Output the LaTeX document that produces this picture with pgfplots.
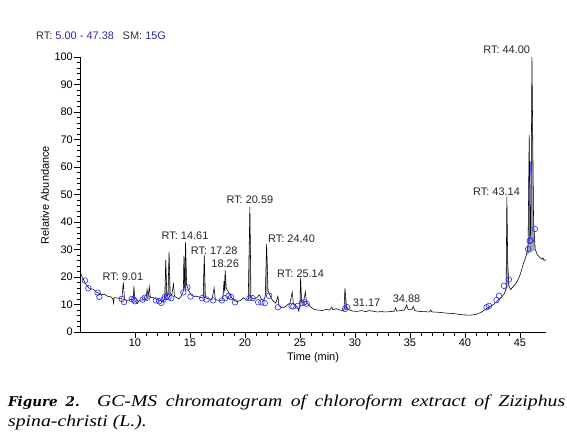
\documentclass[border=0pt]{standalone}
\usepackage{fontspec}
\setmainfont{Liberation Sans}
\newfontfamily\capfont[FakeStretch=1.2]{Liberation Serif}
\newfontfamily\figfont{DejaVu Serif}
\usepackage{pgfplots}
\pgfplotsset{compat=1.18}
\definecolor{rtblue}{RGB}{45,45,160}
\definecolor{mkblue}{RGB}{40,40,255}
\begin{document}
\begin{tikzpicture}[x=1bp,y=1bp]
\path[use as bounding box] (0,0) rectangle (567,-442);
\node[anchor=west,inner sep=0,font=\fontsize{11}{12}\selectfont] at (36,-36)
  {\textcolor{black!80}{RT:} \textcolor{rtblue}{5.00 - 47.38}\hspace{0.8em}\textcolor{black!80}{SM:} \textcolor{rtblue}{15G}};
\begin{axis}[
  at={(80bp,-332bp)}, anchor=south west,
  scale only axis, width=466bp, height=275bp,
  xmin=5, xmax=47.38, ymin=0, ymax=100,
  axis lines*=left,
  axis line style={line width=0.9pt,-},
  xtick={10,15,...,45}, ytick={0,10,...,100},
  minor x tick num=4, minor y tick num=4,
  tick align=outside,
  major tick length=6bp, minor tick length=3.5bp,
  tick style={black,line width=0.6pt},
  tick label style={font=\fontsize{11}{12}\selectfont},
  /pgf/number format/assume math mode=true,
  yticklabel style={inner sep=1pt},
  xticklabel style={inner sep=1pt},
  clip=false,
]
% gray filled peaks
\addplot[fill=gray!70,draw=none] coordinates {(12.7,12) (12.8,26.2) (12.9,13)} -- cycle;
\addplot[fill=gray!70,draw=none] coordinates {(13.0,13.5) (13.1,29.2) (13.2,14)} -- cycle;
\addplot[fill=gray!70,draw=none] coordinates {(14.4,15) (14.45,27.8) (14.52,16) (14.6,32.8) (14.7,17)} -- cycle;
\addplot[fill=gray!70,draw=none] coordinates {(16.2,12.3) (16.3,27.9) (16.4,12.5)} -- cycle;
\addplot[fill=gray!70,draw=none] coordinates {(18.0,13) (18.1,18.5) (18.15,15) (18.2,22.5) (18.3,16)} -- cycle;
\addplot[fill=gray!70,draw=none] coordinates {(20.3,11.8) (20.45,45.6) (20.55,12.5)} -- cycle;
\addplot[fill=gray!70,draw=none] coordinates {(21.85,13) (21.97,32) (22.1,15)} -- cycle;
\addplot[fill=gray!70,draw=none] coordinates {(25.0,10) (25.06,19.8) (25.15,11)} -- cycle;
\addplot[fill=gray!70,draw=none] coordinates {(29.0,7.9) (29.1,15.9) (29.25,8.5)} -- cycle;
\addplot[fill=gray!70,draw=none] coordinates {(43.6,14) (43.75,16) (43.82,49.2) (43.9,25) (44.0,17)} -- cycle;
\addplot[fill=gray!70,draw=none] coordinates {(45.6,28) (45.75,32) (45.85,71.6) (45.95,35) (46.0,36) (46.1,100) (46.25,40) (46.4,30)} -- cycle;
% trace
\addplot[black,line width=0.55pt] coordinates {
(5.00,22.0) (5.2,20.0) (5.5,17.5) (5.8,16.0) (6.2,15.5) (6.5,14.5) (6.8,14.0) (7.0,13.5)
(7.2,13.8) (7.5,13.0) (7.8,12.8) (8.0,12.0) (8.05,10.5) (8.1,12.5) (8.5,12.3) (8.8,12.0)
(8.94,18.0) (9.05,11.8) (9.3,11.5) (9.6,11.8) (9.85,12.0) (9.9,16.8) (10.0,11.5) (10.2,10.3)
(10.4,11.5) (10.8,11.8) (11.0,12.0) (11.1,15.5) (11.2,13) (11.3,16.5) (11.4,12.5) (11.7,12.5)
(12.0,11.8) (12.3,11.5) (12.5,11.0) (12.7,12.0) (12.8,26.2) (12.9,13) (13.0,13.5) (13.1,29.2)
(13.2,14) (13.35,13.5) (13.5,17.5) (13.6,13.0) (13.8,12.5) (14.0,12.0) (14.2,13.0) (14.4,15)
(14.45,27.8) (14.52,16) (14.6,32.8) (14.7,17) (14.9,15) (15.1,13.5) (15.3,13) (15.6,13)
(16.0,12.5) (16.2,12.3) (16.3,27.9) (16.4,12.5) (16.7,12) (17.0,11.8) (17.2,16.0) (17.3,11.8)
(17.6,11.5) (17.9,11.5) (18.0,13) (18.1,18.5) (18.15,15) (18.2,22.5) (18.3,16) (18.5,14.5)
(18.7,13) (19.0,11.5) (19.3,11) (19.6,11.5) (19.9,12.5) (20.1,11.5) (20.3,11.8) (20.45,45.6)
(20.55,12.5) (20.8,12) (21.1,12.5) (21.3,13.5) (21.5,12) (21.7,11.5) (21.85,13) (21.97,32)
(22.1,15) (22.25,13.5) (22.5,11.5) (22.8,10.5) (23.0,13) (23.1,9.5) (23.3,9.0) (23.6,9.0)
(23.9,10) (24.1,10.5) (24.3,14.5) (24.4,10.5) (24.6,9.5) (24.8,9) (24.9,7.5) (25.0,10)
(25.06,19.8) (25.15,11) (25.3,10.5) (25.5,14.6) (25.6,10.5) (25.8,10) (26.0,9) (26.3,8.2)
(26.6,8.0) (27.0,7.8) (27.4,8.2) (27.7,8.0) (27.9,9.0) (28.0,8.0) (28.3,8.5) (28.6,8.0)
(28.9,7.8) (29.0,7.9) (29.1,15.9) (29.25,8.5) (29.5,8.0) (29.8,7.6) (30.2,7.5) (30.6,7.8)
(31.0,7.4) (31.3,7.8) (31.6,7.6) (32.0,7.3) (32.4,7.4) (32.8,7.3) (33.2,7.4) (33.6,7.6)
(33.7,8.8) (33.8,7.6) (34.2,7.8) (34.5,8.0) (34.7,9.8) (34.85,8.2) (35.2,8.2) (35.3,9.3)
(35.45,7.8) (35.8,7.5) (36.3,7.4) (36.8,7.3) (36.9,8.0) (37.0,7.3) (37.5,7.2) (38.0,7.0)
(38.5,6.8) (39.0,6.7) (39.5,6.4) (40.0,6.2) (40.5,6.1) (41.0,6.4) (41.5,7.2) (42.0,8.6)
(42.3,9.3) (42.6,10.0) (43.0,11.5) (43.3,12.5) (43.6,14.0) (43.75,16) (43.82,49.2) (43.9,25)
(44.0,17) (44.15,15.5) (44.4,16.5) (44.7,18) (45.0,20.5) (45.3,24.5) (45.6,28) (45.75,32)
(45.85,71.6) (45.95,35) (46.0,36) (46.1,100) (46.25,40) (46.4,30) (46.6,28) (46.8,27.2)
(47.0,26.5) (47.1,27) (47.2,26.0) (47.38,26.3)
};
% blue integration lines
\addplot[mkblue,line width=0.6pt] coordinates {(45.9,33) (45.95,62)};
\addplot[mkblue,line width=0.6pt] coordinates {(14.6,15.5) (14.6,22.5)};
% blue markers
\addplot[only marks,mark=o,mark size=2.8bp,mkblue,mark options={line width=0.6pt}] coordinates {
(5.45,18.7) (5.76,15.9) (6.6,14.3) (6.76,12.8) (8.8,12.0) (9.0,10.9) (9.7,12) (9.9,11.8)
(10.0,11.2) (10.7,11.8) (10.9,12.5) (11.1,12.5) (11.9,11.5) (12.2,11.2) (12.4,10.6) (12.6,11.8)
(12.7,12.7) (12.9,12.9) (13.05,12.7) (13.3,12.3) (14.4,14.4) (14.76,16.2) (15.05,12.9) (16.1,12.3)
(16.5,11.8) (17.1,11.5) (17.9,11.5) (18.2,12.3) (18.5,13.1) (18.75,12.7) (19.1,10.8) (20.4,12.3)
(20.7,12.3) (21.2,10.8) (21.5,10.8) (21.8,10.5) (22.2,13.2) (23.0,9.0) (24.24,9.5) (24.4,9.3)
(24.8,9.5) (25.2,10.5) (25.4,10.8) (25.6,10.3) (29.1,8.4) (29.3,9.0)
(41.97,9.0) (42.2,9.5) (42.88,11.6) (43.1,13.2) (43.55,16.8) (44.0,19.1) (45.76,30.2) (45.9,33.1)
(46.0,33.3) (46.36,37.5)
};
% peak labels
\begin{scope}[every node/.style={font=\fontsize{11}{12}\selectfont,text=black!85,inner sep=0}]
\node at (axis cs:8.9,20.1) {RT: 9.01};
\node at (axis cs:14.55,34.9) {RT: 14.61};
\node at (axis cs:17.2,29.6) {RT: 17.28};
\node at (axis cs:18.2,24.7) {18.26};
\node at (axis cs:20.45,48) {RT: 20.59};
\node at (axis cs:24.24,34) {RT: 24.40};
\node at (axis cs:25.06,21.3) {RT: 25.14};
\node at (axis cs:31.06,10.7) {31.17};
\node at (axis cs:34.7,12.2) {34.88};
\node at (axis cs:42.88,51) {RT: 43.14};
\node at (axis cs:43.8,102.5) {RT: 44.00};
\end{scope}
\end{axis}
\node[rotate=90,font=\fontsize{11}{12}\selectfont] at (45,-195) {Relative Abundance};
\node[font=\fontsize{11}{12}\selectfont] at (313,-358) {Time (min)};
\node[anchor=north west,inner sep=0] at (8,-395)
  {\parbox[t]{557bp}{\capfont\fontsize{16.5}{19.3}\selectfont\itshape{\figfont\fontsize{13.5}{19.3}\selectfont\bfseries\itshape Figure 2.} GC-MS chromatogram of chloroform extract of Ziziphus\linebreak spina-christi (L.).}};
\end{tikzpicture}
\end{document}
